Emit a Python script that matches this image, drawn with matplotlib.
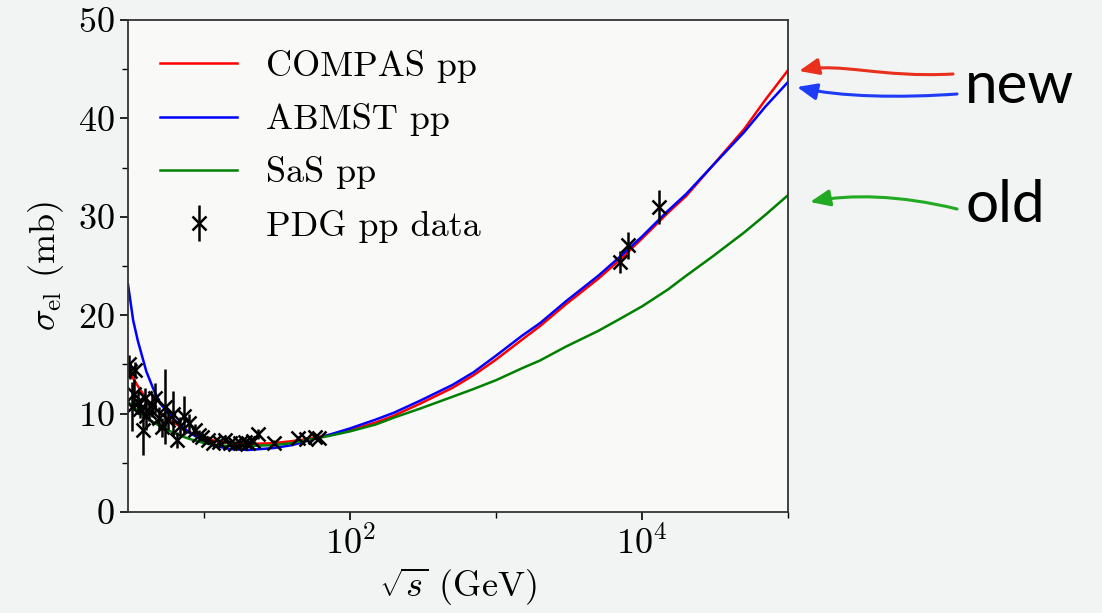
import numpy as np
import matplotlib
matplotlib.use('Agg')
import matplotlib.pyplot as plt
from matplotlib.ticker import FixedLocator, NullFormatter, MultipleLocator
from matplotlib.patches import FancyArrowPatch
from matplotlib.path import Path

matplotlib.rcParams.update({'font.size': 26})
matplotlib.rcParams['font.family'] = 'serif'
matplotlib.rcParams['font.serif'] = ['cmr10']
matplotlib.rcParams['mathtext.fontset'] = 'cm'
matplotlib.rcParams['axes.formatter.use_mathtext'] = True
matplotlib.rcParams['axes.unicode_minus'] = False

# model curves
sqrts = [3, 3.25, 3.5, 4, 4.5, 5, 6, 7, 8, 10, 12, 15, 20, 30, 40, 50, 70,
         100, 150, 200, 300, 500, 700, 1000, 1500, 2000, 3000, 5000, 7000,
         1e4, 1.5e4, 2e4, 3e4, 5e4, 7e4, 1e5]
compas = [14.6, 13.6, 12.8, 11.5, 10.7, 10.0, 9.2, 8.6, 8.1, 7.5, 7.2, 7.0, 6.9, 7.0, 7.2, 7.4, 7.8,
          8.3, 9.1, 9.8, 11.0, 12.6, 13.9, 15.5, 17.5, 18.9, 21.1, 23.7, 25.6,
          27.8, 30.4, 32.1, 35.1, 38.9, 41.9, 44.9]
abmst = [23.1, 19.5, 17.4, 14.3, 12.4, 11.0, 9.6, 8.7, 8.0, 7.2, 6.7, 6.4, 6.3, 6.5, 6.8, 7.2, 7.8,
         8.5, 9.4, 10.1, 11.3, 12.9, 14.2, 15.9, 17.9, 19.2, 21.4, 24.0, 25.9,
         28.0, 30.6, 32.3, 35.1, 38.6, 41.2, 43.7]
sas = [11.2, 10.7, 10.3, 9.6, 9.1, 8.7, 8.1, 7.7, 7.4, 7.0, 6.8, 6.7, 6.7, 6.8, 7.0, 7.3, 7.7,
       8.2, 8.9, 9.6, 10.5, 11.7, 12.5, 13.4, 14.6, 15.4, 16.8, 18.4, 19.6,
       20.9, 22.6, 24.0, 25.9, 28.4, 30.2, 32.2]

# PDG pp elastic data
pdg_sqrts = [3.05, 3.1, 3.2, 3.3, 3.35, 3.5, 3.6, 3.8, 3.9, 4.0, 4.2, 4.4, 4.6, 4.9,
             5.1, 5.4, 5.6, 6.1, 6.5, 6.8, 7.3, 7.9, 8.6, 9.2, 9.7, 10.6, 11.5, 12.7,
             13.8, 15.0, 16.3, 17.5, 19.0, 19.8, 21.5, 23.5, 30.2, 44.0, 50.0, 57.0,
             61.0, 7000, 8000, 13000]
pdg_sigma = [15.0, 14.3, 10.7, 12.0, 14.4, 11.2, 10.5, 8.3, 11.6, 9.8, 10.2, 10.9, 11.6, 9.5,
             8.6, 10.7, 9.3, 10.0, 7.3, 8.7, 9.8, 9.0, 8.3, 7.8, 7.6, 7.3, 7.0, 7.1,
             7.3, 7.0, 6.9, 7.0, 7.1, 7.0, 7.2, 7.9, 7.0, 7.5, 7.4, 7.6,
             7.5, 25.4, 27.1, 31.0]
pdg_err = [1.0, 0.8, 2.5, 1.5, 0.8, 1.2, 1.0, 2.5, 1.0, 1.5, 1.0, 1.2, 1.5, 1.2,
           1.0, 3.8, 1.0, 2.3, 0.8, 1.0, 2.0, 1.0, 0.6, 0.5, 0.4, 0.4, 0.3, 0.3,
           0.3, 0.3, 0.3, 0.3, 0.3, 0.3, 0.3, 0.5, 0.3, 0.2, 0.2, 0.2,
           0.2, 1.1, 1.4, 1.7]

fig = plt.figure(figsize=(11.02, 6.13), dpi=100, facecolor='#f2f3f3')
ax = fig.add_axes([0.1162, 0.1648, 0.5989, 0.8026])
ax.set_facecolor('#f9f9f8')

ax.plot(sqrts, compas, color='red', lw=1.8, label='COMPAS pp')
ax.plot(sqrts, abmst, color='blue', lw=1.8, label='ABMST pp')
ax.plot(sqrts, sas, color='green', lw=1.8, label='SaS pp')
ax.errorbar(pdg_sqrts, pdg_sigma, yerr=pdg_err, fmt='x', color='black', ms=10, mew=1.8,
            elinewidth=1.8, capsize=0, label='PDG pp data')

ax.set_xscale('log')
ax.set_xlim(3, 1e5)
ax.set_ylim(0, 50)
ax.xaxis.set_major_locator(FixedLocator([1e2, 1e4]))
ax.xaxis.set_minor_locator(FixedLocator([1e1, 1e3, 1e5]))
ax.xaxis.set_minor_formatter(NullFormatter())
ax.yaxis.set_major_locator(MultipleLocator(10))
ax.yaxis.set_minor_locator(MultipleLocator(5))
ax.tick_params(which='major', length=6, width=1.2)
ax.tick_params(which='minor', length=4, width=1.0)
for s in ax.spines.values():
    s.set_linewidth(1.3)
    s.set_color('#333333')

ax.set_xlabel(r'$\sqrt{s}$ (GeV)', labelpad=4)
ax.set_ylabel(r'$\sigma_{\rm el}$ (mb)', labelpad=9)

ax.legend(loc='upper left', bbox_to_anchor=(0.0485, 0.939), frameon=False,
          borderpad=0, borderaxespad=0, handlelength=2.14, handletextpad=0.78,
          labelspacing=0.56)

# "new" / "old" annotations, positions in figure pixels
W, H = 1102.0, 613.0
def fp(x, y):
    return (x / W, 1 - y / H)

fig.text(*fp(965, 103), 'new', family='Lato', fontsize=42, color='black')
fig.text(*fp(965, 222), 'old', family='Lato', fontsize=42, color='black')

arrows = [
    ('#e8301c', [(953, 74), (880, 78), (840, 62), (799, 71)]),
    ('#1f3cf5', [(957, 94), (900, 98), (840, 97), (797, 87)]),
    ('#22aa22', [(957, 209), (900, 195), (850, 194), (810, 202)]),
]
for col, pts in arrows:
    path = Path([fp(*p) for p in pts],
                [Path.MOVETO, Path.CURVE4, Path.CURVE4, Path.CURVE4])
    arr = FancyArrowPatch(path=path, arrowstyle='-|>,head_length=0.6,head_width=0.25',
                          mutation_scale=20, color=col, lw=2.2,
                          transform=fig.transFigure)
    fig.add_artist(arr)

fig.savefig('out.png', dpi=100, facecolor=fig.get_facecolor())
